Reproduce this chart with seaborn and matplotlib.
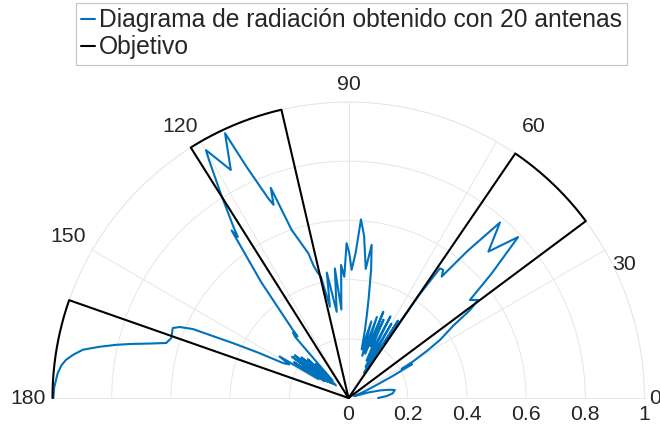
import numpy as np
import matplotlib
matplotlib.use("Agg")
import matplotlib.pyplot as plt
import seaborn as sns
import pandas as pd
from matplotlib.lines import Line2D

# ---- data (degrees, linear radius) ----
pattern_theta = [0, 3, 6, 9.8, 11.5, 13.5, 15.5, 17, 19, 21, 22.5, 24.5, 26.5, 28.0, 28.6, 29.5,
                 31, 32.4, 34.6, 35.9, 37.1, 38.9, 41, 43.5, 46.3, 49.2, 51, 52.5, 53.5, 54.8,
                 55.6, 56.3, 57.4, 58.5, 60, 61.3, 62.8, 64.2, 65.9, 67, 68, 69.3, 70.7, 72,
                 73.4, 74.8, 76.4, 77.4, 78.5, 80, 81.4, 82.4, 84.5, 86, 87.2, 88.6, 89.7,
                 90.7, 92, 93.2, 94.6, 96, 97.8, 99.8, 101.5, 102.8, 104, 104.8, 105.5,
                 108.7, 110.3, 111.2, 111.9, 113.8, 115, 117.3, 119.9, 120.3, 122, 123.9,
                 124.5, 124.9, 127, 129.2, 129.6, 130.2, 131.1, 132.5, 133.8, 135, 136.5,
                 137.8, 139.2, 140.3, 141.5, 142.7, 143.8, 145.2, 146.6, 147.8, 148.9,
                 150.5, 151.9, 153.3, 154.6, 156.1, 157.2, 158.3, 161.3, 162, 163.2, 164.7,
                 166, 167.1, 168.4, 169.7, 171, 172.3, 173.5, 175.1, 176.5, 178, 180]
pattern_r = [0.10, 0.13, 0.15, 0.159, 0.14, 0.11, 0.07, 0.023, 0.02, 0.04, 0.06, 0.095, 0.17,
             0.243, 0.205, 0.25, 0.31, 0.366, 0.43, 0.507, 0.549, 0.527, 0.64, 0.79, 0.684,
             0.783, 0.64, 0.517, 0.538, 0.536, 0.42, 0.22, 0.31, 0.10, 0.29, 0.12, 0.31, 0.14,
             0.29, 0.19, 0.314, 0.16, 0.29, 0.15, 0.27, 0.17, 0.236, 0.28, 0.34, 0.44, 0.523,
             0.44, 0.55, 0.605, 0.49, 0.433, 0.49, 0.523, 0.41, 0.45, 0.30, 0.44, 0.294,
             0.43, 0.315, 0.42, 0.44, 0.463, 0.507, 0.60, 0.757, 0.70, 0.727, 0.854, 0.987,
             0.867, 0.966, 0.938, 0.815, 0.697, 0.66, 0.69, 0.49, 0.30, 0.27, 0.29, 0.275,
             0.08, 0.16, 0.06, 0.19, 0.07, 0.21, 0.08, 0.232, 0.09, 0.236, 0.10, 0.22, 0.12,
             0.272, 0.23, 0.251, 0.34, 0.433, 0.575, 0.619, 0.639, 0.632, 0.636, 0.643,
             0.697, 0.755, 0.805, 0.86, 0.912, 0.94, 0.963, 0.976, 0.986, 0.99, 0.995, 0.997]

# objective sectors (degrees), value 1 inside, 0 outside
obj_start = [36.7, 103.1, 160.7]
obj_end = [55.7, 122.2, 180.0]

theta_ticks = [0, 30, 60, 90, 120, 150, 180]
r_ticks = [0, 0.2, 0.4, 0.6, 0.8, 1]
r_tick_labels = ["0", "0.2", "0.4", "0.6", "0.8", "1"]
legend_labels = ["Diagrama de radiación obtenido con 20 antenas", "Objetivo"]

BLUE = "#0072BD"
GRID = "#e6e6e6"
TXT = "#262626"

sns.set_style("white")
plt.rcParams["font.family"] = ["Liberation Sans", "DejaVu Sans"]

fig = plt.figure(figsize=(6.6, 4.32), dpi=100)
W, H = 660, 432
cx, cy, R = 348.5, 398.0, 296.0
# square axes box; the half-disk wedge is fitted and centred inside it
top_px = cy - R / 2 - R
ax = fig.add_axes([(cx - R) / W, (H - (top_px + 2 * R)) / H, 2 * R / W, 2 * R / H],
                  projection="polar")
ax.set_thetamin(0)
ax.set_thetamax(180)
ax.set_ylim(0, 1)

# pattern
df_p = pd.DataFrame({"theta": np.deg2rad(pattern_theta), "r": pattern_r})
sns.lineplot(data=df_p, x="theta", y="r", ax=ax, color=BLUE, lw=1.5, sort=False,
             estimator=None, clip_on=False, zorder=3)

# objective (step mask sampled finely)
grid_deg = np.round(np.arange(0, 1800.5, 1) / 10.0, 1)
mask = np.zeros_like(grid_deg)
for a, b in zip(obj_start, obj_end):
    mask[(grid_deg >= a) & (grid_deg <= b)] = 1.0
df_o = pd.DataFrame({"theta": np.deg2rad(grid_deg), "r": mask})
sns.lineplot(data=df_o, x="theta", y="r", ax=ax, color="black", lw=1.5, sort=False,
             estimator=None, clip_on=False, zorder=4)

ax.set_xlabel("")
ax.set_ylabel("")
ax.set_xticks(np.deg2rad(theta_ticks))
ax.set_xticklabels([])
ax.set_yticks(r_ticks[1:])
ax.set_yticklabels([])
ax.grid(True, color=GRID, lw=0.7)
for sp in ax.spines.values():
    sp.set_color(GRID)
    sp.set_linewidth(0.7)
    sp.set_zorder(1)
ax.tick_params(length=0)

# angular labels (pixel-measured layout)
lab_pos = {0: (655, 398), 30: (624, 264), 60: (534, 127), 90: (348.5, 85),
           120: (180, 126), 150: (68, 236), 180: (28, 398)}
for t in theta_ticks:
    px, py = lab_pos[t]
    fig.text(px / W, 1 - py / H, str(t), ha="center", va="center", fontsize=15.3, color=TXT)

for rv, lab in zip(r_ticks, r_tick_labels):
    fig.text((cx + rv * R) / W, 1 - 414 / H, lab, ha="center", va="center",
             fontsize=15.3, color=TXT)

handles = [Line2D([], [], color=BLUE, lw=1.5), Line2D([], [], color="black", lw=1.5)]
leg = fig.legend(handles, legend_labels, loc="upper center",
                 bbox_to_anchor=(351.5 / W, 1 - 3 / H), fontsize=17.7, frameon=True,
                 fancybox=False, edgecolor="#c4c4c4", framealpha=1, handlelength=0.55,
                 handletextpad=0.15, labelspacing=0.12, borderpad=0.22, borderaxespad=0)
leg.get_frame().set_linewidth(0.8)

fig.savefig("out.png", dpi=100)
